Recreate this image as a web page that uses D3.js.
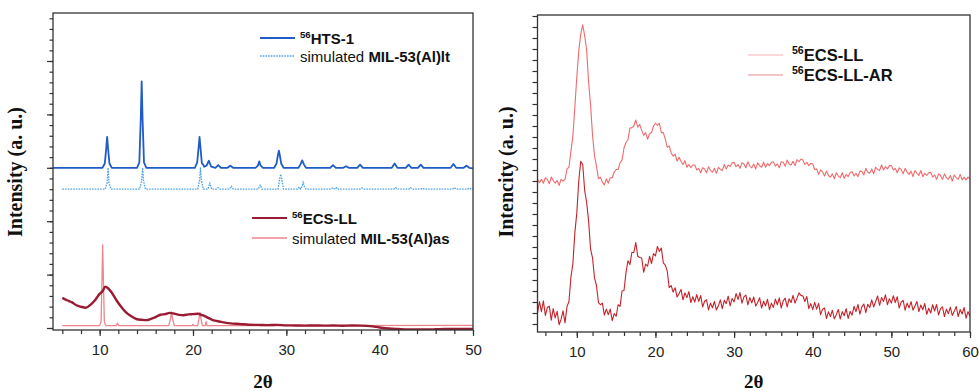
<!DOCTYPE html>
<html>
<head>
<meta charset="utf-8">
<script src="https://cdn.jsdelivr.net/npm/d3@7"></script>
<style>
  html, body { margin: 0; padding: 0; background: #fff; }
  svg { display: block; }
  .tick text { font-family: "Liberation Sans", Arial, sans-serif; font-size: 15px; fill: #222; }
  .axis-title { font-family: "Liberation Serif", "Times New Roman", serif; font-weight: bold; fill: #111; }
  .legend { font-family: "Liberation Sans", Arial, sans-serif; fill: #111; }
</style>
</head>
<body>
<svg id="chart" width="979" height="391"></svg>
<script>
// ---------- Left panel: diffraction patterns, [2θ, intensity] ----------
const hts1 = [
  [5,15.0],[10.3,15.0],[10.55,15.4],[10.7,16.8],[10.8,17.9],[10.9,16.8],[11.05,15.4],[11.3,15.0],
  [14.0,15.0],[14.25,15.5],[14.4,19.5],[14.5,23.1],[14.6,19.5],[14.75,15.5],[15.0,15.0],
  [20.2,15.0],[20.45,15.5],[20.6,16.9],[20.7,17.9],[20.8,16.9],[20.95,15.4],[21.05,15.36],[21.2,15.1],
  [21.45,15.2],[21.7,15.66],[21.95,15.1],[22.4,15.0],[22.7,15.26],[23.0,15.0],[23.7,15.0],[24.0,15.2],[24.3,15.0],
  [26.7,15.0],[26.95,15.2],[27.1,15.6],[27.25,15.2],[27.5,15.0],
  [28.7,15.0],[28.95,15.4],[29.1,16.2],[29.2,16.6],[29.3,16.2],[29.45,15.4],[29.7,15.0],
  [31.3,15.0],[31.5,15.3],[31.7,15.7],[31.9,15.3],[32.1,15.0],
  [34.7,15.0],[35.0,15.26],[35.3,15.0],[36.1,15.0],[36.4,15.15],[36.7,15.0],[37.6,15.0],[37.9,15.3],[38.2,15.0],
  [41.3,15.0],[41.6,15.4],[41.9,15.0],[42.8,15.0],[43.1,15.3],[43.4,15.0],[44.1,15.0],[44.4,15.3],[44.7,15.0],
  [47.6,15.0],[47.9,15.35],[48.2,15.0],[49.0,15.0],[49.3,15.2],[49.6,15.0],[50,14.95]
];
const simLt = [
  [6,13.0],[10.6,13.0],[10.8,13.6],[10.9,15.0],[11.0,13.6],[11.2,13.0],
  [14.3,13.0],[14.5,13.8],[14.6,15.0],[14.7,13.8],[14.9,13.0],
  [20.5,13.0],[20.7,13.8],[20.8,15.0],[20.9,13.8],[21.1,13.0],[21.6,13.0],[21.8,13.6],[22.0,13.0],
  [22.5,13.0],[22.7,13.15],[22.9,13.0],[23.9,13.0],[24.1,13.3],[24.3,13.0],[27.0,13.0],[27.2,13.4],[27.4,13.0],
  [29.1,13.0],[29.3,14.0],[29.4,14.4],[29.5,14.0],[29.7,13.0],
  [31.2,13.0],[31.4,13.2],[31.55,13.0],[31.7,13.3],[31.8,13.7],[31.9,13.3],[32.1,13.0],
  [34.8,13.0],[35.0,13.15],[35.2,13.0],[35.4,13.15],[35.6,13.0],[37.9,13.0],[38.1,13.12],[38.3,13.0],
  [41.5,13.0],[41.7,13.15],[41.9,13.0],[43.1,13.0],[43.3,13.15],[43.5,13.0],[44.4,13.0],[44.6,13.1],[44.8,13.0],
  [47.8,13.0],[48.0,13.15],[48.2,13.0],[49.4,13.0],[49.6,13.1],[49.8,13.0],[50,13.0]
];
const ecsLLLeft = [
  [6.0,2.82],[6.5,2.6],[7.0,2.42],[7.5,2.13],[8.0,1.99],[8.5,1.9],[9.0,2.17],[9.5,2.6],[10.0,3.2],
  [10.3,3.44],[10.6,3.86],[10.9,3.72],[11.3,3.3],[11.8,2.6],[12.3,1.99],[12.8,1.48],[13.3,1.14],
  [14.0,0.82],[14.5,0.77],[15.0,0.74],[15.5,0.86],[16.0,1.02],[16.5,1.24],[17.0,1.3],[17.5,1.42],
  [18.0,1.34],[18.5,1.23],[19.0,1.2],[19.5,1.28],[20.0,1.3],[20.5,1.33],[21.0,1.2],[21.5,1.0],
  [22.0,0.79],[22.5,0.66],[23.0,0.57],[24.0,0.43],[25.0,0.38],[26.0,0.31],[27.0,0.29],[28.0,0.27],
  [29.0,0.29],[30.0,0.25],[31.0,0.24],[32.0,0.22],[33.0,0.24],[34.0,0.22],[35.0,0.23],[36.0,0.21],
  [37.0,0.23],[38.0,0.22],[39.0,0.18],[40.0,0.05],[41.0,-0.05],[42.0,-0.1],[43.0,-0.14],[44.0,-0.13],
  [45.0,-0.14],[46.0,-0.12],[47.0,-0.09],[48.0,-0.1],[49.0,-0.08],[50.0,-0.09]
];
const simAs = [
  [6,0.22],[10.0,0.22],[10.15,0.6],[10.25,4.5],[10.32,7.77],[10.4,4.5],[10.5,0.6],[10.65,0.22],
  [11.75,0.22],[11.9,0.44],[12.05,0.22],[17.4,0.22],[17.6,0.9],[17.7,1.5],[17.8,0.9],[18.0,0.22],
  [19.9,0.22],[20.0,0.35],[20.1,0.22],[20.5,0.22],[20.65,0.9],[20.75,1.45],[20.85,0.9],[21.0,0.22],
  [21.3,0.22],[21.4,0.6],[21.5,0.22],[50,0.25]
];

// ---------- Right panel: intensities sampled every 0.25° from 5° to 60° ----------
const rightStart = 5, rightStep = 0.25;
const ecsLLRight = [
  13.15,12.85,13.15,12.8, 13.3,13.15,12.75,13.35, 13.05,12.8,13.05,12.6, 13.15,13.0,13.15,14.1,
  14.25,15.7,17.1,19.7, 22.45,24.85,26.35,27.2, 26.2,24.9,21.95,19.9, 17.15,15.3,14.35,13.2,
  13.35,12.9,12.65,13.2, 12.8,13.3,13.3,13.8, 14.05,14.05,14.65,14.9, 16.0,16.5,16.75,17.8,
  17.85,18.0,18.55,17.9, 18.15,17.6,17.15,17.4, 16.8,17.3,17.4,18.0, 18.25,18.05,18.25,17.4,
  17.4,16.8,16.05,16.2, 15.55,15.25,15.45,14.8, 15.15,14.8,14.5,14.85, 14.25,14.5,14.2,14.45,
  14.45,14.0,14.15,13.75, 14.2,14.1,13.75,14.3, 13.95,13.8,14.15,13.7, 14.25,14.05,13.95,14.5,
  14.1,14.45,14.3,14.65, 14.7,14.3,14.5,14.15, 14.65,14.55,14.2,14.75, 14.35,14.2,14.55,14.1,
  14.65,14.4,14.25,14.7, 14.25,14.6,14.4,14.7, 14.75,14.35,14.55,14.2, 14.75,14.7,14.35,14.9,
  14.55,14.45,14.8,14.4, 14.95,14.75,15.0,14.9, 14.5,14.7,14.4,14.6, 14.55,14.05,14.1,13.6,
  14.0,13.85,13.45,13.9, 13.5,13.35,13.65,13.2, 13.75,13.45,13.3,13.75, 13.25,13.6,13.4,13.75,
  13.85,13.45,13.7,13.4, 13.9,13.85,13.55,14.15, 13.8,13.7,14.1,13.65, 14.25,14.05,13.95,14.45,
  14.0,14.3,14.1,14.4, 14.4,14.0,14.15,13.75, 14.2,14.05,13.65,14.15, 13.8,13.6,13.9,13.4,
  13.95,13.7,13.5,13.95, 13.4,13.7,13.5,13.75, 13.8,13.35,13.55,13.15, 13.65,13.5,13.15,13.65,
  13.3,13.15,13.5,13.0, 13.55,13.3,13.15,13.6, 13.1,13.35,13.1,13.35, 13.2
];
const ecsLLAR = [
  1.0,2.03,1.12,2.1, 0.77,1.52,1.62,0.35, 1.4,0.55,1.15,-0.07, 0.44,1.2,0.1,1.58,
  2.05,4.25,5.5,8.3, 10.1,13.05,14.8,14.5, 12.15,11.05,9.35,6.8, 6.0,4.2,3.5,1.95,
  1.75,1.9,0.8,1.35, 0.85,1.35,0.3,0.95, 0.7,1.75,1.6,3.0, 3.05,4.65,5.75,5.4,
  6.5,6.5,7.4,6.15, 6.05,6.0,4.7,5.45, 5.25,6.15,5.5,6.4, 6.2,7.05,6.6,6.9,
  5.55,5.35,4.8,3.3, 3.5,2.9,3.3,2.45, 2.75,3.15,2.2,2.83, 2.4,2.95,1.95,2.48,
  2.0,2.67,2.05,2.58, 1.55,2.07,2.2,1.28, 1.9,1.48,2.05,1.27, 1.65,2.2,1.4,2.15,
  1.85,2.53,1.65,2.32, 2.0,2.77,2.24,2.85, 1.9,2.47,2.63,1.74, 2.4,1.92,2.45,1.63,
  1.95,2.38,1.45,2.07, 1.65,2.25,1.3,1.9, 1.5,2.27,1.75,2.38, 1.45,2.1,2.35,1.55,
  2.3,1.95,2.6,1.9, 2.35,2.83,2.6,2.55, 2.05,2.5,1.4,1.85, 1.3,1.97,1.35,1.88,
  0.85,1.35,1.45,0.5, 1.1,0.68,1.25,0.47, 0.85,1.32,0.45,1.13, 0.75,1.4,0.5,1.15,
  0.8,1.61,1.12,1.78, 0.9,1.56,1.82,1.03, 1.8,1.5,2.2,1.55, 2.05,2.55,1.7,2.4,
  2.05,2.65,1.75,2.3, 1.9,2.57,1.95,2.48, 1.45,2.0,2.15,1.25, 1.9,1.47,2.04,1.26,
  1.63,2.05,1.12,1.73, 1.3,1.86,0.87,1.43, 1.0,1.75,1.18,1.77, 0.82,1.39,1.56,0.68,
  1.35,0.94,1.53,0.77, 1.15,1.59,0.68,1.32, 0.91,1.5,0.53,1.12, 0.7
];

// ---------- Axis ticks ----------
const leftXLabels = [10, 20, 30, 40, 50];
const rightXLabels = [10, 20, 30, 40, 50, 60];

const svg = d3.select("#chart");
svg.append("rect").attr("width", 979).attr("height", 391).attr("fill", "#fff");

function panel(cfg) {
  const g = svg.append("g");
  const x = d3.scaleLinear().domain(cfg.xDomain).range([cfg.left, cfg.right]);
  const y = d3.scaleLinear().domain(cfg.yDomain).range(cfg.yRange);
  const clipId = "clip-" + cfg.id;
  svg.append("clipPath").attr("id", clipId).append("rect")
    .attr("x", cfg.left).attr("y", cfg.top)
    .attr("width", cfg.right - cfg.left).attr("height", cfg.bottom - cfg.top);

  const plot = g.append("g").attr("clip-path", `url(#${clipId})`);
  cfg.series.forEach(s => {
    plot.append("path")
      .datum(s.data)
      .attr("fill", "none")
      .attr("stroke", s.color)
      .attr("stroke-width", s.width)
      .attr("stroke-dasharray", s.dash || null)
      .attr("stroke-linejoin", "round")
      .attr("d", d3.line().x(d => x(d[0])).y(d => y(d[1])).curve(s.curve || d3.curveLinear));
  });

  // y ticks (no labels)
  const yAxisG = g.append("g").attr("transform", `translate(${cfg.left},0)`);
  yAxisG.call(d3.axisLeft(y).tickValues(cfg.yMinor).tickSize(cfg.yMinorLen).tickSizeOuter(0).tickFormat(""));
  yAxisG.call(g2 => g2.select(".domain").remove());
  if (cfg.yMajor) {
    const yMajG = g.append("g").attr("transform", `translate(${cfg.left},0)`);
    yMajG.call(d3.axisLeft(y).tickValues(cfg.yMajor).tickSize(6).tickSizeOuter(0).tickFormat(""));
    yMajG.select(".domain").remove();
  }
  g.selectAll(".tick line").attr("stroke", "#333").attr("stroke-width", 1.2);

  // x ticks
  const xMinor = g.append("g").attr("transform", `translate(0,${cfg.bottom})`)
    .call(d3.axisBottom(x).tickValues(cfg.xMinor).tickSize(4).tickSizeOuter(0).tickFormat(""));
  xMinor.select(".domain").remove();
  const xMajor = g.append("g").attr("transform", `translate(0,${cfg.bottom})`)
    .call(d3.axisBottom(x).tickValues(cfg.xLabels).tickSize(6).tickSizeOuter(0).tickPadding(8).tickFormat(d3.format("d")));
  xMajor.select(".domain").remove();
  g.selectAll(".tick line").attr("stroke", "#333").attr("stroke-width", 1.2);

  // frame
  g.append("rect")
    .attr("x", cfg.left).attr("y", cfg.top)
    .attr("width", cfg.right - cfg.left).attr("height", cfg.bottom - cfg.top)
    .attr("fill", "none").attr("stroke", "#333").attr("stroke-width", 1.3);

  // axis titles
  g.append("text").attr("class", "axis-title")
    .attr("x", (cfg.left + cfg.right) / 2).attr("y", 388)
    .attr("text-anchor", "middle").attr("font-size", 19)
    .text("2θ");
  g.append("text").attr("class", "axis-title")
    .attr("transform", `translate(${cfg.yTitleX},172) rotate(-90)`)
    .attr("text-anchor", "middle").attr("font-size", 20)
    .text(cfg.yTitle);

  // legend
  cfg.legend.forEach(l => {
    g.append("line")
      .attr("x1", l.x1).attr("x2", l.x2).attr("y1", l.y).attr("y2", l.y)
      .attr("stroke", l.color).attr("stroke-width", l.width)
      .attr("stroke-opacity", l.opacity || 1)
      .attr("stroke-dasharray", l.dash || null);
    const t = g.append("text").attr("class", "legend")
      .attr("x", l.tx).attr("y", l.y + 5.5).attr("font-size", l.size);
    l.parts.forEach(p => {
      const sp = t.append("tspan").text(p.t);
      if (p.sup) sp.attr("font-size", l.size * 0.64).attr("font-weight", "bold").attr("dy", -l.size * 0.38);
      if (p.afterSup) sp.attr("dy", l.size * 0.38);
      if (p.bold) sp.attr("font-weight", "bold");
    });
  });
}

const colHTS = "#1f5cc8", colLt = "#4ea2e6", colECS = "#9a1c32", colAs = "#ec858c";
const colRTop = "#ef6a6c", colRBot = "#c42229";

panel({
  id: "left",
  xDomain: [5, 50], left: 53, right: 473, top: 13, bottom: 330,
  yDomain: [0, 29], yRange: [328, 328 - 29 * 10.68],
  yMinor: d3.range(0, 30), yMajor: d3.range(0, 30, 5), yMinorLen: 3.5,
  xMinor: d3.range(6, 51, 2), xLabels: leftXLabels,
  yTitleX: 22, yTitle: "Intensity (a. u.)",
  series: [
    { data: simLt, color: colLt, width: 1.3, dash: "1.6,1.1" },
    { data: hts1, color: colHTS, width: 1.8 },
    { data: simAs, color: colAs, width: 1.3 },
    { data: ecsLLLeft, color: colECS, width: 2.4, curve: d3.curveMonotoneX }
  ],
  legend: [
    { x1: 260, x2: 295, y: 38, color: colHTS, width: 1.8, tx: 300, size: 15,
      parts: [{ t: "56", sup: true }, { t: "HTS-1", bold: true, afterSup: true }] },
    { x1: 260, x2: 295, y: 56, color: colLt, width: 1.3, dash: "1.6,1.1", tx: 300, size: 15,
      parts: [{ t: "simulated " }, { t: "MIL-53(Al)lt", bold: true }] },
    { x1: 252, x2: 287, y: 218, color: colECS, width: 2, tx: 292, size: 15,
      parts: [{ t: "56", sup: true }, { t: "ECS-LL", bold: true, afterSup: true }] },
    { x1: 252, x2: 287, y: 238, color: colAs, width: 1.5, tx: 292, size: 15,
      parts: [{ t: "simulated " }, { t: "MIL-53(Al)as", bold: true }] }
  ]
});

const rightTop = ecsLLRight.map((v, i) => [rightStart + i * rightStep, v]);
const rightBot = ecsLLAR.map((v, i) => [rightStart + i * rightStep, v]);

panel({
  id: "right",
  xDomain: [5, 60], left: 537.5, right: 970, top: 15, bottom: 332,
  yDomain: [0, 28], yRange: [324, 16],
  yMinor: d3.range(0, 29), yMajor: null, yMinorLen: 5,
  xMinor: d3.range(6, 61, 2), xLabels: rightXLabels,
  yTitleX: 513, yTitle: "Intencity (a. u.)",
  series: [
    { data: rightTop, color: colRTop, width: 1.1 },
    { data: rightBot, color: colRBot, width: 1.1 }
  ],
  legend: [
    { x1: 748, x2: 783, y: 55, color: colRTop, width: 1, opacity: 0.5, tx: 792, size: 16.5,
      parts: [{ t: "56", sup: true }, { t: "ECS-LL", bold: true, afterSup: true }] },
    { x1: 748, x2: 783, y: 75, color: colRBot, width: 1, opacity: 0.5, tx: 792, size: 16.5,
      parts: [{ t: "56", sup: true }, { t: "ECS-LL-AR", bold: true, afterSup: true }] }
  ]
});
</script>
</body>
</html>
